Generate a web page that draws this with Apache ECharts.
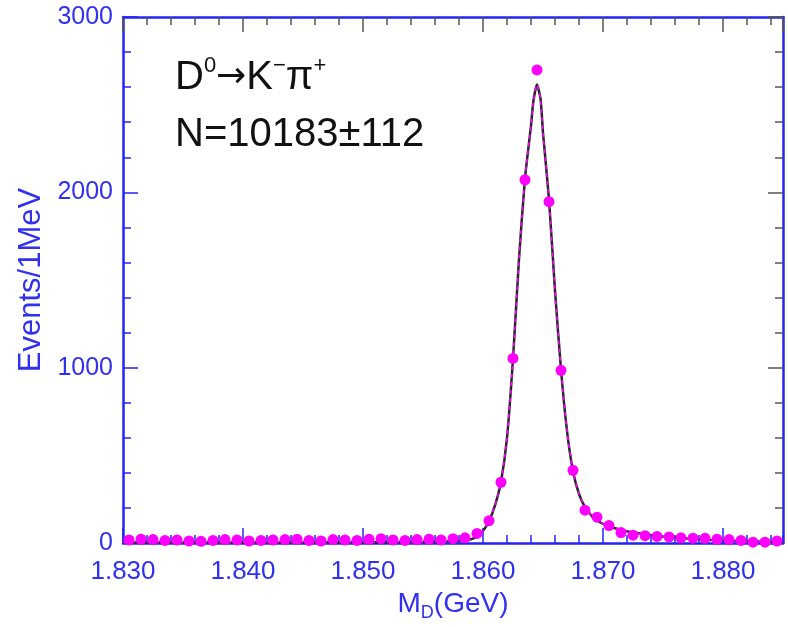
<!DOCTYPE html>
<html>
<head>
<meta charset="utf-8">
<script src="https://cdn.jsdelivr.net/npm/echarts@6/dist/echarts.min.js"></script>
<style>
html,body{margin:0;padding:0;background:#fff;}
#chart{width:788px;height:627px;}
</style>
</head>
<body>
<div id="chart"></div>
<script>
// ---- data ----
const binCenters = [
  1.8305,1.8315,1.8325,1.8335,1.8345,1.8355,1.8365,1.8375,1.8385,1.8395,
  1.8405,1.8415,1.8425,1.8435,1.8445,1.8455,1.8465,1.8475,1.8485,1.8495,
  1.8505,1.8515,1.8525,1.8535,1.8545,1.8555,1.8565,1.8575,1.8585,1.8595,
  1.8605,1.8615,1.8625,1.8635,1.8645,1.8655,1.8665,1.8675,1.8685,1.8695,
  1.8705,1.8715,1.8725,1.8735,1.8745,1.8755,1.8765,1.8775,1.8785,1.8795,
  1.8805,1.8815,1.8825,1.8835,1.8845
];
const counts = [
  18,22,20,15,18,12,10,15,20,18,
  12,15,18,20,22,15,12,20,18,15,
  22,25,18,15,20,22,18,25,30,55,
  128,347,1053,2072,2698,1947,985,415,188,148,
  100,60,45,42,38,35,30,28,27,22,
  20,15,5,5,12
];
const curveX = [
  1.830,1.835,1.840,1.845,1.850,1.853,1.855,1.857,1.858,1.859,
  1.8595,1.860,1.8605,1.861,1.8615,1.862,1.8625,1.863,1.8635,1.864,
  1.8642,1.8645,1.8648,1.865,1.8655,1.866,1.8665,1.867,1.8675,1.868,
  1.8685,1.869,1.8695,1.870,1.871,1.872,1.873,1.874,1.875,1.876,
  1.877,1.878,1.879,1.880,1.882,1.885
];
const curveY = [
  3,3,4,4,5,6,7,9,12,22,
  38,70,125,215,350,600,1050,1620,2080,2380,
  2520,2615,2530,2340,1960,1440,990,640,410,280,
  205,160,130,110,85,68,56,46,38,32,
  26,22,18,15,10,6
];
const xTickLabels = ['1.830','1.840','1.850','1.860','1.870','1.880'];
const yTickLabels = ['0','1000','2000','3000'];

// ---- styling ----
const BLUE = '#2424f4';
const BLUE_TXT = '#3030ee';
const GRAY = '#555555';
const FONT = 'Liberation Sans, Arial, Helvetica, sans-serif';

const chart = echarts.init(document.getElementById('chart'), null, {renderer: 'canvas'});

function xAx(opts) {
  return Object.assign({
    type: 'value', min: 1.830, max: 1.885, gridIndex: 0,
    splitLine: {show: false},
    axisLine: {show: false, onZero: false},
    axisLabel: {show: false},
    axisTick: {show: true}
  }, opts);
}
function yAx(opts) {
  return Object.assign({
    type: 'value', min: 0, max: 3000, gridIndex: 0,
    splitLine: {show: false},
    axisLine: {show: false, onZero: false},
    axisLabel: {show: false},
    axisTick: {show: true}
  }, opts);
}

const option = {
  animation: false,
  backgroundColor: '#ffffff',
  grid: {left: 123, right: 5, top: 17, bottom: 82.5, containLabel: false},
  xAxis: [
    xAx({
      position: 'bottom', interval: 0.01,
      axisLine: {show: true, onZero: false, lineStyle: {color: BLUE, width: 2.5}},
      axisTick: {show: true, inside: true, length: 15, lineStyle: {color: BLUE, width: 1.5}},
      axisLabel: {
        show: true, color: BLUE_TXT, fontSize: 26, fontFamily: FONT, margin: 16,
        showMaxLabel: false,
        formatter: function (v) {
          const i = Math.round((v - 1.830) / 0.01);
          return xTickLabels[i] !== undefined && Math.abs(v - (1.830 + i * 0.01)) < 1e-6 ? xTickLabels[i] : '';
        }
      },
      name: '{m|M}{s|D}{m|(GeV)}',
      nameLocation: 'middle', nameGap: 41,
      nameTextStyle: {
        color: BLUE_TXT, fontFamily: FONT,
        rich: {
          m: {fontSize: 28, color: BLUE_TXT, fontFamily: FONT, lineHeight: 36, verticalAlign: 'middle'},
          s: {fontSize: 18, color: BLUE_TXT, fontFamily: FONT, lineHeight: 36, verticalAlign: 'bottom'}
        }
      }
    }),
    xAx({
      position: 'bottom', interval: 0.002,
      axisTick: {show: true, inside: true, length: 8, lineStyle: {color: BLUE, width: 1.5}}
    }),
    xAx({
      position: 'top', interval: 0.01,
      axisLine: {show: true, onZero: false, lineStyle: {color: BLUE, width: 2.5}},
      axisTick: {show: true, inside: true, length: 15, lineStyle: {color: GRAY, width: 1.5}}
    }),
    xAx({
      position: 'top', interval: 0.002,
      axisTick: {show: true, inside: true, length: 8, lineStyle: {color: GRAY, width: 1.5}}
    })
  ],
  yAxis: [
    yAx({
      position: 'left', interval: 1000,
      axisLine: {show: true, onZero: false, lineStyle: {color: BLUE, width: 2.5}},
      axisTick: {show: true, inside: true, length: 15, lineStyle: {color: BLUE, width: 1.5}},
      axisLabel: {
        show: true, color: BLUE_TXT, fontSize: 25, fontFamily: FONT, margin: 10,
        formatter: function (v) {
          const i = Math.round(v / 1000);
          return yTickLabels[i] !== undefined ? yTickLabels[i] : '';
        }
      },
      name: 'Events/1MeV',
      nameLocation: 'middle', nameGap: 75, nameRotate: 90,
      nameTextStyle: {color: BLUE_TXT, fontSize: 31, fontFamily: FONT}
    }),
    yAx({
      position: 'left', interval: 200,
      axisTick: {show: true, inside: true, length: 8, lineStyle: {color: BLUE, width: 1.5}}
    }),
    yAx({
      position: 'right', interval: 1000,
      axisLine: {show: true, onZero: false, lineStyle: {color: BLUE, width: 2.5}},
      axisTick: {show: true, inside: true, length: 15, lineStyle: {color: GRAY, width: 1.5}}
    }),
    yAx({
      position: 'right', interval: 200,
      axisTick: {show: true, inside: true, length: 8, lineStyle: {color: GRAY, width: 1.5}}
    })
  ],
  series: [
    {
      type: 'line', xAxisIndex: 0, yAxisIndex: 0,
      data: curveX.map((x, i) => [x, curveY[i]]),
      showSymbol: false, symbol: 'none', smooth: 0.2,
      lineStyle: {color: '#262626', width: 2.5},
      z: 2, silent: true
    },
    {
      type: 'line', xAxisIndex: 0, yAxisIndex: 0,
      data: curveX.map((x, i) => [x, curveY[i]]),
      showSymbol: false, symbol: 'none', smooth: 0.2,
      lineStyle: {color: '#ff00ff', width: 1.6, type: [4, 4]},
      z: 3, silent: true
    },
    {
      type: 'scatter', xAxisIndex: 0, yAxisIndex: 0,
      data: binCenters.map((x, i) => [x, counts[i]]),
      symbol: 'circle', symbolSize: 11,
      itemStyle: {color: '#ff00ff', opacity: 1},
      z: 4, silent: true
    }
  ],
  graphic: [
    {
      type: 'text', left: 175, top: 55, z: 10,
      style: {
        text: '{m|D}{sup|0}{arr|→}{m|K}{sup|−}{m|π}{sup|+}',
        fill: '#111',
        rich: {
          m: {fontSize: 40, fontFamily: FONT, fill: '#111', lineHeight: 46, verticalAlign: 'middle'},
          sup: {fontSize: 22, fontFamily: FONT, fill: '#111', lineHeight: 24, verticalAlign: 'top'},
          arr: {fontSize: 36, fontFamily: 'DejaVu Sans, sans-serif', fill: '#111', lineHeight: 46, verticalAlign: 'middle'}
        }
      }
    },
    {
      type: 'text', left: 175, top: 112, z: 10,
      style: {
        text: 'N=10183±112',
        fill: '#111',
        font: '40px ' + FONT,
        lineHeight: 46
      }
    }
  ]
};
chart.setOption(option);
</script>
</body>
</html>
